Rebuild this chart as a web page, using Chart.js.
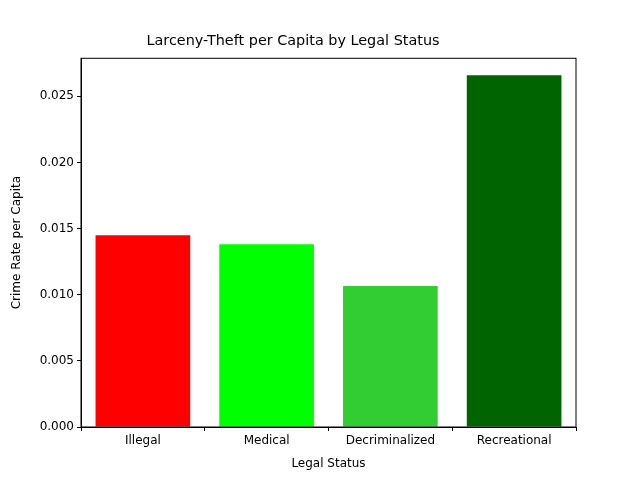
<!DOCTYPE html>
<html>
<head>
<meta charset="utf-8">
<script src="https://cdn.jsdelivr.net/npm/chart.js@4"></script>
<style>
  body { margin: 0; background: #fff; }
  #wrap { width: 640px; height: 480px; }
</style>
</head>
<body>
<div id="wrap"><canvas id="myChart"></canvas></div>
<script>
const categories = ["Illegal", "Medical", "Decriminalized", "Recreational"];
const crimeRates = [0.0145, 0.01382, 0.01065, 0.02659];
const barColors = ["#ff0000", "#00ff00", "#32cd32", "#006400"];
const yTicks = [0, 0.005, 0.01, 0.015, 0.02, 0.025];

const ctx = document.getElementById("myChart");
const font = { family: "DejaVu Sans", size: 12 };

// draw the full axes box like matplotlib
const frame = {
  id: "frame",
  afterDraw(chart) {
    const a = chart.chartArea;
    const c = chart.ctx;
    c.save();
    c.strokeStyle = "#000";
    c.lineWidth = 1;
    c.strokeRect(a.left, a.top, a.right - a.left, a.bottom - a.top);
    c.restore();
  },
};

new Chart(ctx, {
  type: "bar",
  data: {
    labels: categories,
    datasets: [
      {
        data: crimeRates,
        backgroundColor: barColors,
        borderWidth: 0,
        barPercentage: 0.765,
        categoryPercentage: 1,
      },
    ],
  },
  options: {
    responsive: true,
    maintainAspectRatio: false,
    animation: false,
    layout: { padding: { left: 10, right: 64, top: 0, bottom: 9 } },
    plugins: {
      legend: { display: false },
      tooltip: { enabled: false },
      title: {
        display: true,
        text: "Larceny-Theft per Capita by Legal Status",
        color: "#000",
        font: { family: "DejaVu Sans", size: 14.4, weight: "normal" },
        padding: { top: 33, bottom: 8 },
      },
    },
    scales: {
      x: {
        afterFit: (s) => { s.height = 44; },
        ticks: { color: "#000", font, autoSkip: false, maxRotation: 0 },
        grid: { drawOnChartArea: false, tickLength: 4, color: "#000" },
        border: { color: "#000" },
        title: { display: true, text: "Legal Status", color: "#000", font, padding: 0 },
      },
      y: {
        min: 0,
        max: 0.02787,
        afterBuildTicks: (s) => { s.ticks = yTicks.map((v) => ({ value: v })); },
        afterFit: (s) => { s.width = 71; },
        ticks: {
          color: "#000",
          font,
          callback: (v) => v.toFixed(3),
        },
        grid: { drawOnChartArea: false, tickLength: 4, color: "#000" },
        border: { color: "#000" },
        title: { display: true, text: "Crime Rate per Capita", color: "#000", font, padding: 0 },
      },
    },
  },
  plugins: [frame],
});
</script>
</body>
</html>
